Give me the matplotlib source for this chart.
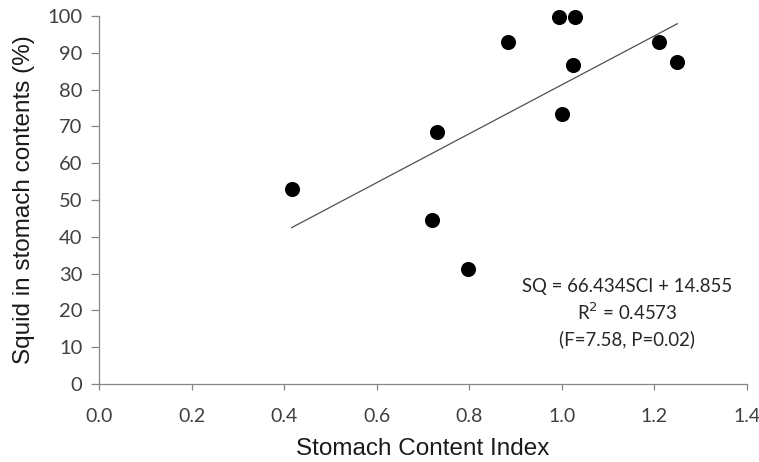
import matplotlib
matplotlib.use("Agg")
import matplotlib.pyplot as plt
import numpy as np

sci = [0.416, 0.730, 0.719, 0.883, 0.995, 1.029, 1.024, 1.000, 1.211, 1.250, 0.798]
squid = [53.0, 68.5, 44.5, 92.8, 99.8, 99.8, 86.8, 73.4, 92.8, 87.4, 31.2]
slope = 66.434
intercept = 14.855
x_ticks = [0.0, 0.2, 0.4, 0.6, 0.8, 1.0, 1.2, 1.4]
y_ticks = [0, 10, 20, 30, 40, 50, 60, 70, 80, 90, 100]
annotation = ["SQ = 66.434SCI + 14.855", "R$^2$ = 0.4573", "(F=7.58, P=0.02)"]

fig = plt.figure(figsize=(7.59, 4.62), dpi=100)
ax = fig.add_axes([0.1308, 0.1688, 0.9838 - 0.1308, 0.9654 - 0.1688])

ax.scatter(sci, squid, s=118, color="black", zorder=3, linewidths=0, clip_on=False)

xs = np.array([min(sci), max(sci)])
ax.plot(xs, slope * xs + intercept, color="#505050", lw=0.9, zorder=2)

ax.set_xlim(0, 1.4)
ax.set_ylim(0, 100)
ax.set_xticks(x_ticks)
ax.set_yticks(y_ticks)
ax.set_xticklabels([f"{v:.1f}" for v in x_ticks])
ax.set_yticklabels([str(v) for v in y_ticks])

for s in ["top", "right"]:
    ax.spines[s].set_visible(False)
for s in ["left", "bottom"]:
    ax.spines[s].set_color("#868686")
    ax.spines[s].set_linewidth(0.9)

ax.tick_params(axis="both", direction="out", color="#868686", width=0.9,
               labelcolor="#404040", labelsize=14.5)
ax.tick_params(axis="y", length=6, pad=6)
ax.tick_params(axis="x", length=4.5, pad=13, labelsize=14)
for lab in ax.get_xticklabels() + ax.get_yticklabels():
    lab.set_fontfamily("Lato")
xl = ax.get_xticklabels()
xl[-1].set_horizontalalignment("center")

ax.set_xlabel("Stomach Content Index", fontsize=17.5, family="Liberation Sans",
              color="#1a1a1a", labelpad=9)
ax.set_ylabel("Squid in stomach contents (%)", fontsize=17.5, family="Liberation Sans",
              color="#1a1a1a", labelpad=9)

ys = [26.5, 19.4, 12.3]
for txt, yv in zip(annotation, ys):
    ax.text(1.141, yv, txt, ha="center", va="center", fontsize=13.4,
            family="Lato", color="#262626")

fig.savefig("out.png", dpi=100)
